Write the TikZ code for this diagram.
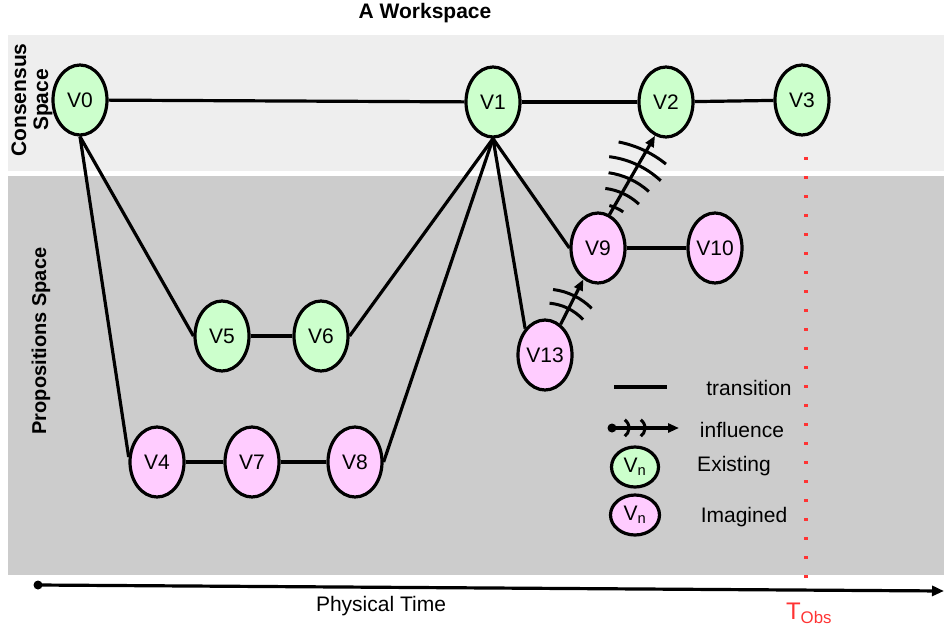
\documentclass[tikz,border=0pt]{standalone}
\usepackage{fontspec}
\setmainfont{Liberation Sans}
\usetikzlibrary{shapes.geometric,arrows.meta}
\definecolor{existgreen}{HTML}{CCFFCC}
\definecolor{imaggreen}{HTML}{FFCCFF}
\definecolor{consgray}{HTML}{EEEEEE}
\definecolor{propgray}{HTML}{CCCCCC}
\definecolor{obsred}{HTML}{FF3333}

\begin{document}
\begin{tikzpicture}[x=1pt,y=-1pt,
  main node/.style={ellipse,draw,line width=3.2pt,minimum width=54pt,minimum height=70pt,inner sep=0pt,font=\fontsize{21}{23}\selectfont},
  exist node/.style={main node,fill=existgreen},
  imag node/.style={main node,fill=imaggreen},
  legend node/.style={ellipse,draw,line width=3.2pt,minimum width=47pt,minimum height=40pt,inner sep=0pt,font=\fontsize{21}{23}\selectfont},
  label text/.style={font=\fontsize{21}{23}\selectfont},
  trans/.style={-,line width=3.2pt},
  infl/.style={-{Triangle[length=11pt,width=9pt]},line width=3.2pt},
  wave/.style={line width=3pt}]

  \useasboundingbox (0,0) rectangle (944,635);
  % the two spaces
  \fill[consgray] (8,35) rectangle (944,171);
  \fill[propgray] (8,176) rectangle (944,575);

  \node[font=\bfseries\fontsize{21}{23}\selectfont] (title) at (425,13) {A Workspace};
  \node[rotate=90,align=center,font=\bfseries\fontsize{21}{22}\selectfont] (cons) at (32,100) {Consensus\\Space};
  \node[rotate=90,font=\bfseries\fontsize{20}{22}\selectfont] (prop) at (41,341) {Propositions Space};

  % observation time
  \coordinate (obstop) at (806,157);
  \coordinate (obsbot) at (806,580);
  \draw[obsred,line width=3.5pt,dash pattern=on 3pt off 16pt] (obstop) -- (obsbot);

  \node[exist node] (v0) at (80,100) {V0};
  \node[exist node] (v1) at (493,102) {V1};
  \node[exist node] (v2) at (666,102) {V2};
  \node[exist node] (v3) at (802,100) {V3};
  \node[exist node] (v5) at (222,336) {V5};
  \node[exist node] (v6) at (321,336) {V6};
  \node[imag node] (v4) at (157,462) {V4};
  \node[imag node] (v7) at (252,462) {V7};
  \node[imag node] (v8) at (355,462) {V8};
  \node[imag node] (v9) at (598,248) {V9};
  \node[imag node] (v10) at (715,248) {V10};
  \node[imag node] (v13) at (545,355) {V13};

  \draw[trans] (v0) -- (v1);
  \draw[trans] (v1) -- (v2);
  \draw[trans] (v2) -- (v3);
  \draw[trans] (v0.south) -- (v5.west);
  \draw[trans] (v0.south) -- (v4.170);
  \draw[trans] (v5) -- (v6);
  \draw[trans] (v6.east) -- (v1.south);
  \draw[trans] (v4) -- (v7);
  \draw[trans] (v7) -- (v8);
  \draw[trans] (v8.east) -- (v1.south);
  \draw[trans] (v1.south) -- (v13.127);
  \draw[trans] (v1.south) -- (v9.west);
  \draw[trans] (v9) -- (v10);

  % influences
  \draw[infl] (v13.63) -- (v9.245);
  \foreach \r/\h in {52/21,66/19}
    \draw[wave] (v13.center) ++(-64-\h:\r) arc[start angle=-64-\h,end angle=-64+\h,radius=\r];
  \draw[infl] (v9.71) -- (v2.252);
  \foreach \r/\h in {44/10,60/18,76/17,92/18,108/14}
    \draw[wave] (v9.center) ++(-65-\h:\r) arc[start angle=-65-\h,end angle=-65+\h,radius=\r];

  % legend
  \coordinate (transa) at (614,387);
  \coordinate (transb) at (667,387);
  \draw[trans] (transa) -- (transb);
  \node[label text] (translbl) at (749,388) {transition};
  \coordinate (infla) at (612,428);
  \coordinate (inflb) at (679,428);
  \fill (infla) circle (4.5pt);
  \draw[infl] (infla) -- (inflb);
  \foreach \x in {619,635}
    \draw[wave] (\x,428) ++(-55:10) arc[start angle=-55,end angle=55,radius=10];
  \node[label text] (infllbl) at (742,430) {influence};
  \node[legend node,fill=existgreen] (legexist) at (635,467) {V\textsubscript{n}};
  \node[label text] (existlbl) at (734,466) {Existing};
  \node[legend node,fill=imaggreen,minimum width=49pt] (legimag) at (635,515) {V\textsubscript{n}};
  \node[label text] (imaglbl) at (744,517) {Imagined};

  % physical time
  \coordinate (timea) at (38,585);
  \coordinate (timeb) at (944,591);
  \fill (timea) circle (4.5pt);
  \draw[-{Triangle[length=12pt,width=10pt]},line width=3.2pt] (timea) -- (timeb);
  \node[label text] (timelbl) at (381,606) {Physical Time};
  \node[text=obsred,font=\fontsize{24}{26}\selectfont] (tobs) at (809,613) {T\textsubscript{Obs}};
\end{tikzpicture}
\end{document}
